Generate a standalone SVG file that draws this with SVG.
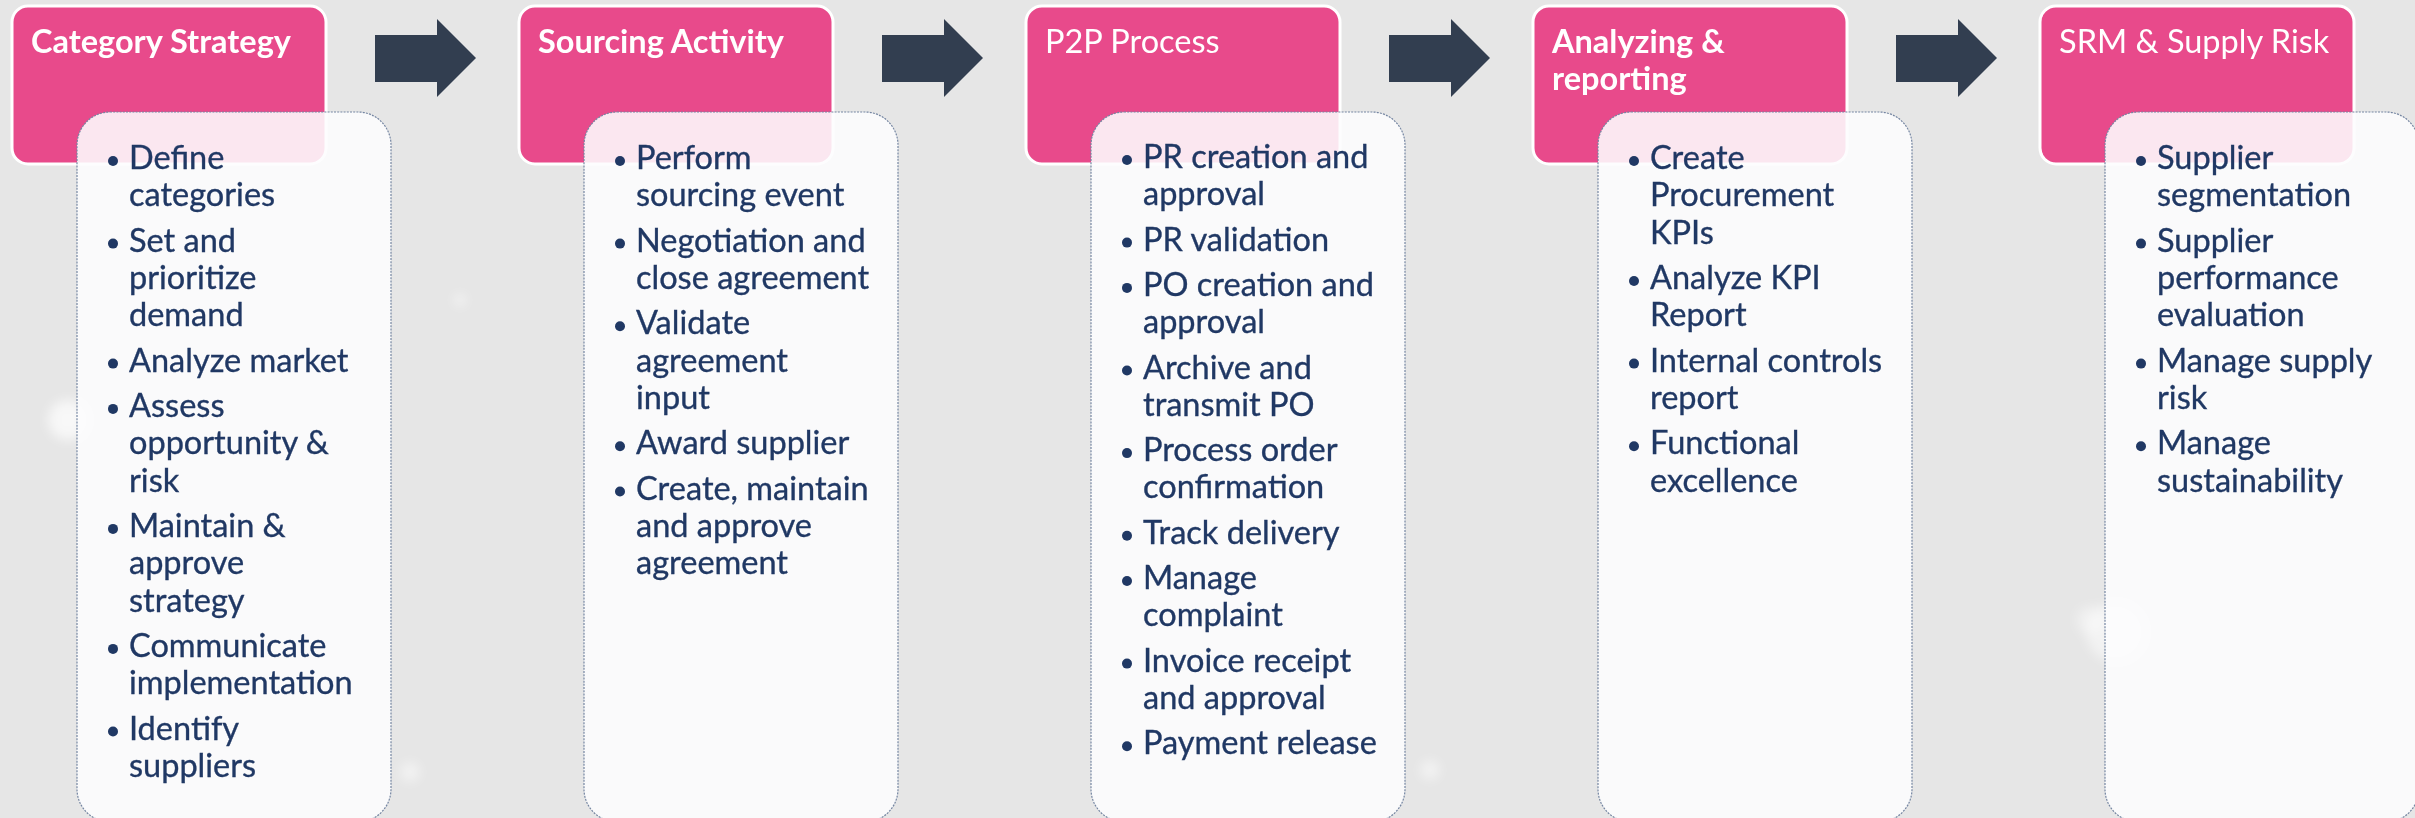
<svg xmlns="http://www.w3.org/2000/svg" width="2415" height="818" viewBox="0 0 2415 818">
<defs>
<style>
.hdr{fill:#E84A8B;stroke:#FFFFFF;stroke-width:3}
.card{fill:#FDFDFE;fill-opacity:0.88;stroke:#7586A2;stroke-width:1.2;stroke-dasharray:2 1.2}
.ttl{font-family:Lato,"Liberation Sans",sans-serif;font-size:32.5px;fill:#FFFFFF}
.b{font-weight:bold}
.itm{font-family:Lato,"Liberation Sans",sans-serif;font-size:32.5px;fill:#203864;stroke:#203864;stroke-width:0.35}
.dot{fill:#203864}
.arw{fill:#323E50}
</style>
<filter id="blur" x="-50%" y="-50%" width="200%" height="200%"><feGaussianBlur stdDeviation="6"/></filter>
</defs>
<rect x="0" y="0" width="2415" height="818" fill="#E6E6E6"/>
<g id="bokeh" fill="#FFFFFF" filter="url(#blur)">
<circle cx="68" cy="420" r="20" opacity="0.7"/>
<circle cx="2116" cy="632" r="30" opacity="0.5"/>
<circle cx="460" cy="300" r="6" opacity="0.6"/>
<circle cx="410" cy="772" r="10" opacity="0.5"/>
<circle cx="1430" cy="770" r="10" opacity="0.5"/>
<circle cx="2090" cy="620" r="14" opacity="0.4"/>
</g>

<g id="connectors">
<path class="arw" d="M375,35 H437 V19 L476,58 L437,97 V82 H375 Z"/>
<path class="arw" d="M882,35 H944 V19 L983,58 L944,97 V82 H882 Z"/>
<path class="arw" d="M1389,35 H1451 V19 L1490,58 L1451,97 V82 H1389 Z"/>
<path class="arw" d="M1896,35 H1958 V19 L1997,58 L1958,97 V82 H1896 Z"/>
</g>

<g id="node-category-strategy">
<rect class="hdr" x="12" y="6" width="314" height="158" rx="16"/>
<text class="ttl b" x="31" y="53">Category Strategy</text>
<rect class="card" x="77" y="112" width="314" height="710" rx="33"/>
<g class="dot">
<circle cx="113" cy="161" r="5"/><circle cx="113" cy="243.6" r="5"/><circle cx="113" cy="363.6" r="5"/><circle cx="113" cy="408.9" r="5"/><circle cx="113" cy="528.9" r="5"/><circle cx="113" cy="648.9" r="5"/><circle cx="113" cy="731.5" r="5"/>
</g>
<text class="itm">
<tspan x="129" y="169">Define</tspan><tspan x="129" y="206.3">categories</tspan>
<tspan x="129" y="251.6">Set and</tspan><tspan x="129" y="288.9">prioritize</tspan><tspan x="129" y="326.2">demand</tspan>
<tspan x="129" y="371.6">Analyze market</tspan>
<tspan x="129" y="416.9">Assess</tspan><tspan x="129" y="454.2">opportunity &amp;</tspan><tspan x="129" y="491.5">risk</tspan>
<tspan x="129" y="536.9">Maintain &amp;</tspan><tspan x="129" y="574.2">approve</tspan><tspan x="129" y="611.5">strategy</tspan>
<tspan x="129" y="656.9">Communicate</tspan><tspan x="129" y="694.2">implementation</tspan>
<tspan x="129" y="739.5">Identify</tspan><tspan x="129" y="776.8">suppliers</tspan>
</text>
</g>

<g id="node-sourcing-activity">
<rect class="hdr" x="519" y="6" width="314" height="158" rx="16"/>
<text class="ttl b" x="538" y="53">Sourcing Activity</text>
<rect class="card" x="584" y="112" width="314" height="710" rx="33"/>
<g class="dot">
<circle cx="620" cy="161" r="5"/><circle cx="620" cy="243.6" r="5"/><circle cx="620" cy="326.2" r="5"/><circle cx="620" cy="446.2" r="5"/><circle cx="620" cy="491.5" r="5"/>
</g>
<text class="itm">
<tspan x="636" y="169">Perform</tspan><tspan x="636" y="206.3">sourcing event</tspan>
<tspan x="636" y="251.6">Negotiation and</tspan><tspan x="636" y="288.9">close agreement</tspan>
<tspan x="636" y="334.2">Validate</tspan><tspan x="636" y="371.5">agreement</tspan><tspan x="636" y="408.8">input</tspan>
<tspan x="636" y="454.2">Award supplier</tspan>
<tspan x="636" y="499.5">Create, maintain</tspan><tspan x="636" y="536.8">and approve</tspan><tspan x="636" y="574.1">agreement</tspan>
</text>
</g>

<g id="node-p2p-process">
<rect class="hdr" x="1026" y="6" width="314" height="158" rx="16"/>
<text class="ttl" x="1045" y="53">P2P Process</text>
<rect class="card" x="1091" y="112" width="314" height="710" rx="33"/>
<g class="dot">
<circle cx="1127" cy="160" r="5"/><circle cx="1127" cy="242.6" r="5"/><circle cx="1127" cy="287.9" r="5"/><circle cx="1127" cy="370.5" r="5"/><circle cx="1127" cy="453.1" r="5"/><circle cx="1127" cy="535.7" r="5"/><circle cx="1127" cy="581" r="5"/><circle cx="1127" cy="663.6" r="5"/><circle cx="1127" cy="746.2" r="5"/>
</g>
<text class="itm">
<tspan x="1143" y="168">PR creation and</tspan><tspan x="1143" y="205.3">approval</tspan>
<tspan x="1143" y="250.6">PR validation</tspan>
<tspan x="1143" y="295.9">PO creation and</tspan><tspan x="1143" y="333.2">approval</tspan>
<tspan x="1143" y="378.5">Archive and</tspan><tspan x="1143" y="415.8">transmit PO</tspan>
<tspan x="1143" y="461.1">Process order</tspan><tspan x="1143" y="498.4">confirmation</tspan>
<tspan x="1143" y="543.7">Track delivery</tspan>
<tspan x="1143" y="589">Manage</tspan><tspan x="1143" y="626.3">complaint</tspan>
<tspan x="1143" y="671.6">Invoice receipt</tspan><tspan x="1143" y="708.9">and approval</tspan>
<tspan x="1143" y="754.2">Payment release</tspan>
</text>
</g>

<g id="node-analyzing-reporting">
<rect class="hdr" x="1533" y="6" width="314" height="158" rx="16"/>
<text class="ttl b"><tspan x="1552" y="53">Analyzing &amp;</tspan><tspan x="1552" y="90">reporting</tspan></text>
<rect class="card" x="1598" y="112" width="314" height="710" rx="33"/>
<g class="dot">
<circle cx="1634" cy="161" r="5"/><circle cx="1634" cy="281" r="5"/><circle cx="1634" cy="363.6" r="5"/><circle cx="1634" cy="446.2" r="5"/>
</g>
<text class="itm">
<tspan x="1650" y="169">Create</tspan><tspan x="1650" y="206.3">Procurement</tspan><tspan x="1650" y="243.6">KPIs</tspan>
<tspan x="1650" y="289">Analyze KPI</tspan><tspan x="1650" y="326.3">Report</tspan>
<tspan x="1650" y="371.6">Internal controls</tspan><tspan x="1650" y="408.9">report</tspan>
<tspan x="1650" y="454.2">Functional</tspan><tspan x="1650" y="491.5">excellence</tspan>
</text>
</g>

<g id="node-srm-supply-risk">
<rect class="hdr" x="2040" y="6" width="314" height="158" rx="16"/>
<text class="ttl" x="2059" y="53">SRM &amp; Supply Risk</text>
<rect class="card" x="2105" y="112" width="314" height="710" rx="33"/>
<g class="dot">
<circle cx="2141" cy="161" r="5"/><circle cx="2141" cy="243.6" r="5"/><circle cx="2141" cy="363.6" r="5"/><circle cx="2141" cy="446.2" r="5"/>
</g>
<text class="itm">
<tspan x="2157" y="169">Supplier</tspan><tspan x="2157" y="206.3">segmentation</tspan>
<tspan x="2157" y="251.6">Supplier</tspan><tspan x="2157" y="288.9">performance</tspan><tspan x="2157" y="326.2">evaluation</tspan>
<tspan x="2157" y="371.6">Manage supply</tspan><tspan x="2157" y="408.9">risk</tspan>
<tspan x="2157" y="454.2">Manage</tspan><tspan x="2157" y="491.5">sustainability</tspan>
</text>
</g>
</svg>
